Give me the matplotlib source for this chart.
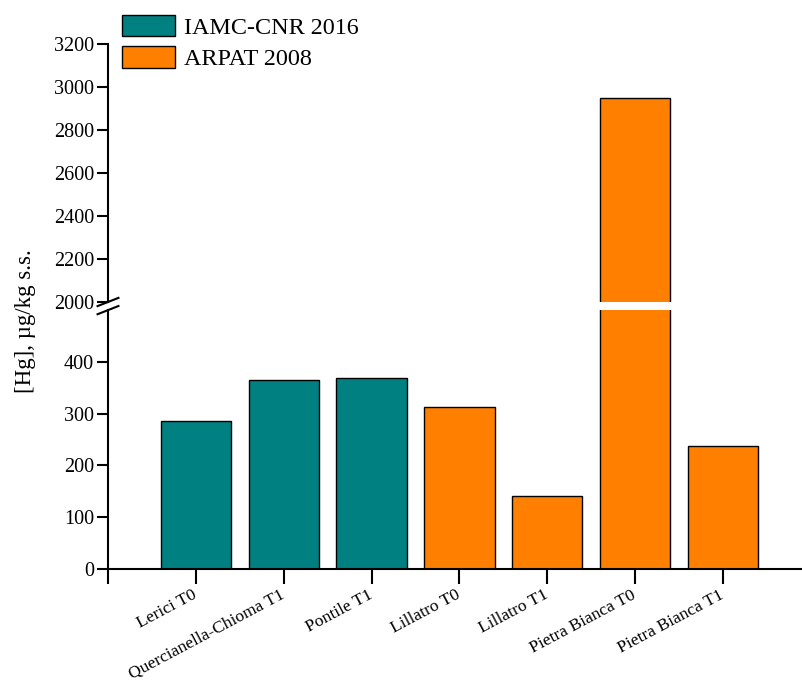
import matplotlib
matplotlib.use('Agg')
import matplotlib.pyplot as plt
from matplotlib.patches import Patch

plt.rcParams['font.family'] = ['Liberation Serif', 'DejaVu Serif']

sites = ['Lerici T0', 'Quercianella-Chioma T1', 'Pontile T1', 'Lillatro T0',
         'Lillatro T1', 'Pietra Bianca T0', 'Pietra Bianca T1']
hg = [286, 365, 369, 313, 141, 2950, 238]
source = ['IAMC-CNR 2016', 'IAMC-CNR 2016', 'IAMC-CNR 2016', 'ARPAT 2008',
          'ARPAT 2008', 'ARPAT 2008', 'ARPAT 2008']
colours = {'IAMC-CNR 2016': '#008080', 'ARPAT 2008': '#FF8000'}

fig = plt.figure(figsize=(8.03, 6.84), dpi=100)
ax_hi = fig.add_axes([0.1345, 0.5585, 0.8655, 0.3772])
ax_lo = fig.add_axes([0.1345, 0.1681, 0.8655, 0.3787])

x = list(range(len(sites)))
bar_cols = [colours[s] for s in source]
for ax in (ax_hi, ax_lo):
    ax.bar(x, hg, width=0.8, color=bar_cols, edgecolor='black', linewidth=1)
    ax.set_xlim(-1, 6.91)
    for s in ['top', 'right']:
        ax.spines[s].set_visible(False)
    ax.spines['left'].set_linewidth(1.5)
    ax.tick_params(axis='y', direction='out', length=8, width=1.5, labelsize=14.5, pad=2)

ax_hi.set_ylim(2000, 3200)
ax_hi.set_yticks(range(2000, 3201, 200))
ax_hi.spines['bottom'].set_visible(False)
ax_hi.tick_params(axis='x', bottom=False, labelbottom=False)

ax_lo.set_ylim(0, 500)
ax_lo.set_yticks(range(0, 401, 100))
ax_lo.spines['bottom'].set_linewidth(1.5)
ax_lo.set_xticks([-1] + x)
ax_lo.set_xticklabels([''] + sites, rotation=28, ha='right', va='center',
                      rotation_mode='anchor')
ax_lo.tick_params(axis='x', direction='out', length=11, width=1.5, labelsize=12.6, pad=7)

# break marks on the y axis
for yb in (0.5585, 0.5466):
    fig.add_artist(plt.Line2D([0.1215, 0.1475], [yb - 0.006, yb + 0.006],
                              transform=fig.transFigure, color='black', lw=1.5))

fig.text(0.032, 0.53, '[Hg], µg/kg s.s.', rotation=90, ha='center', va='center', fontsize=16.5)

handles = [Patch(facecolor=c, edgecolor='black', label=k) for k, c in colours.items()]
fig.legend(handles=handles, loc='upper left', bbox_to_anchor=(0.131, 1.003), frameon=False,
           fontsize=17.4, handlelength=2.2, handleheight=1.0, handletextpad=0.35,
           labelspacing=0.3, borderaxespad=0.3)

fig.savefig('out.png', dpi=100)
